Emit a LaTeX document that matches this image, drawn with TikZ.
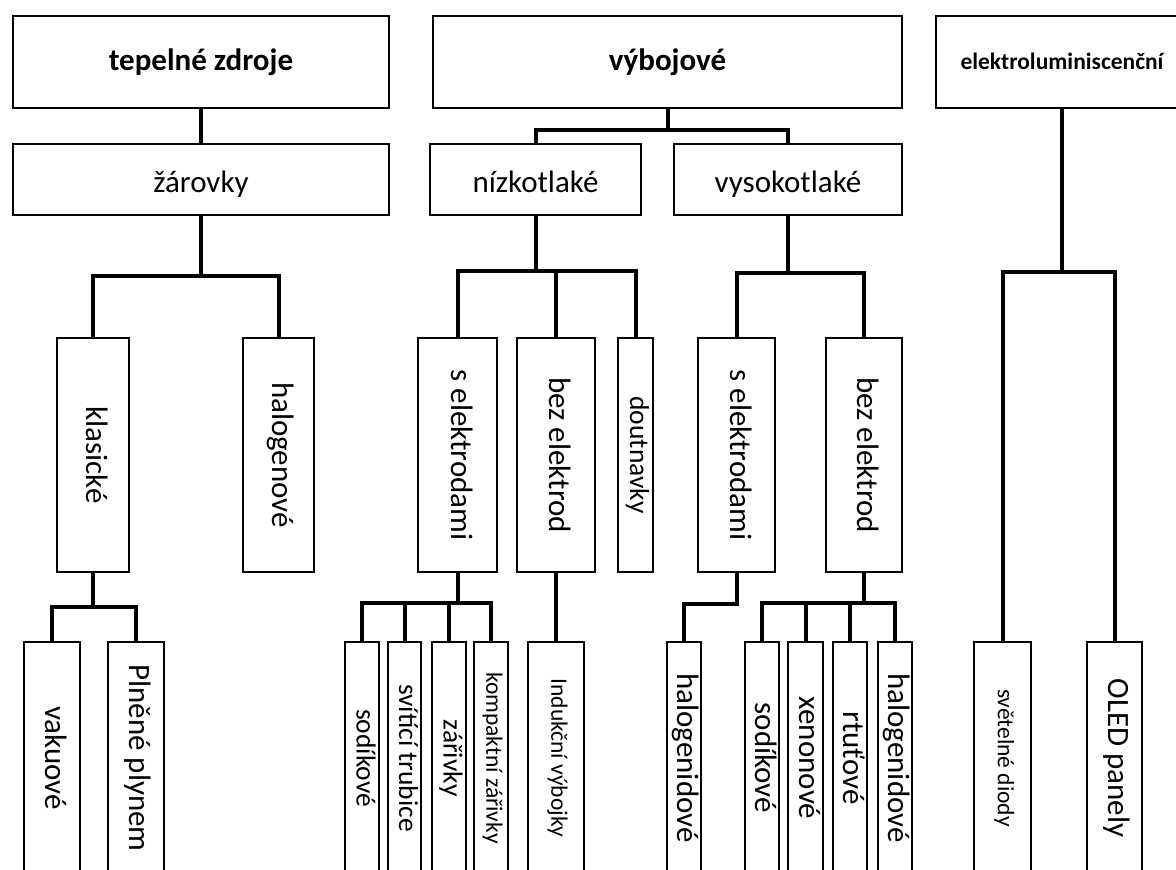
\documentclass[tikz,border=0pt]{standalone}
\usepackage{fontspec}
\setmainfont{Carlito}
\newcommand{\fsize}[1]{\fontsize{#1}{#1}\selectfont}
\newcommand{\vtext}[1]{\rotatebox{-90}{\strut #1}}
\tikzset{
	box/.style={draw, line width=1.2pt, inner sep=0pt, align=center},
	head/.style={box, minimum height=92pt, text height=16pt, text depth=0pt, font=\fsize{31}\bfseries},
	sub/.style={box, minimum height=71pt, text height=25pt, text depth=0pt, font=\fsize{31}},
	mid/.style={box, minimum height=234pt, font=\fsize{31}},
	leaf/.style={box, minimum height=232pt, font=\fsize{31}},
	conn/.style={line width=4pt},
}

\begin{document}
\begin{tikzpicture}[x=1pt,y=-1pt]
				\useasboundingbox (0,0) rectangle (1176,870);
				\clip (0,0) rectangle (1176,870);
				
				\node[head, minimum width=376pt] (tz) at (201,62) {tepelné zdroje};
				\node[head, minimum width=469pt] (vyb) at (667.5,62) {výbojové};
				\node[head, minimum width=252pt, text height=14pt, font=\fsize{23.5}\bfseries] (el) at (1062,62) {elektroluminiscenční};
				
				\node[sub, minimum width=376pt] (zar) at (201,179.5) {žárovky};
				\node[sub, minimum width=211pt] (niz) at (535.5,179.5) {nízkotlaké};
				\node[sub, minimum width=228pt] (vys) at (788,179.5) {vysokotlaké};
				
				\node[mid, minimum width=72pt] (kla) at (93,455) {\vtext{klasické}};
				\node[mid, minimum width=71pt] (hal) at (278.5,455) {\vtext{halogenové}};
				\node[mid, minimum width=79pt] (sel1) at (457.5,455) {\vtext{s elektrodami}};
				\node[mid, minimum width=78pt] (bez1) at (556,455) {\vtext{bez elektrod}};
				\node[mid, minimum width=35pt, font=\fsize{27.5}] (dou) at (635.5,455) {\vtext{doutnavky}};
				\node[mid, minimum width=77pt] (sel2) at (736.5,455) {\vtext{s elektrodami}};
				\node[mid, minimum width=76pt] (bez2) at (864,455) {\vtext{bez elektrod}};
				
				\node[leaf, minimum width=56pt] (vak) at (52,758) {\vtext{vakuové}};
				\node[leaf, minimum width=56pt] (ple) at (136,758) {\vtext{Plněné plynem}};
				\node[leaf, minimum width=34pt, font=\fsize{27.5}] (sod1) at (362,758) {\vtext{sodíkové}};
				\node[leaf, minimum width=33pt, font=\fsize{27.5}] (svi) at (404.5,758) {\vtext{svítící trubice}};
				\node[leaf, minimum width=34pt, font=\fsize{27.5}] (zar2) at (449,758) {\vtext{zářivky}};
				\node[leaf, minimum width=34pt, font=\fsize{23.5}] (kom) at (491,758) {\vtext{kompaktní zářivky}};
				\node[leaf, minimum width=56pt, font=\fsize{23.5}] (ind) at (556,758) {\vtext{Indukční výbojky}};
				\node[leaf, minimum width=34pt] (hgd1) at (684,758) {\vtext{halogenidové}};
				\node[leaf, minimum width=34pt] (sod2) at (762,758) {\vtext{sodíkové}};
				\node[leaf, minimum width=35pt] (xen) at (805.5,758) {\vtext{xenonové}};
				\node[leaf, minimum width=34pt] (rtu) at (850,758) {\vtext{rtuťové}};
				\node[leaf, minimum width=34pt] (hgd2) at (895,758) {\vtext{halogenidové}};
				\node[leaf, minimum width=57pt, font=\fsize{23.5}] (sve) at (1002.5,758) {\vtext{světelné diody}};
				\node[leaf, minimum width=55pt] (ole) at (1114.5,758) {\vtext{OLED panely}};
				
				\draw[conn] (tz.south) -- (zar.north);
				\draw[conn] (vyb.south) -- ++(0,21) -| (niz.north);
				\draw[conn] (vyb.south) -- ++(0,21) -| (vys.north);
				\foreach \n in {sve,ole} \draw[conn] (el.south) -- ++(0,163) -| (\n.north);
				
				\foreach \n in {kla,hal} \draw[conn] (zar.south) -- ++(0,60) -| (\n.north);
				\foreach \n in {sel1,bez1,dou} \draw[conn] (niz.south) -- ++(0,55) -| (\n.north);
				\foreach \n in {sel2,bez2} \draw[conn] (vys.south) -- ++(0,57) -| (\n.north);
				
				\foreach \n in {vak,ple} \draw[conn] (kla.south) -- ++(0,34) -| (\n.north);
				\foreach \n in {sod1,svi,zar2,kom} \draw[conn] (sel1.south) -- ++(0,30) -| (\n.north);
				\draw[conn] (bez1.south) -- (ind.north);
				\draw[conn] (sel2.south) -- ++(0,31) -| (hgd1.north);
				\foreach \n in {sod2,xen,rtu,hgd2} \draw[conn] (bez2.south) -- ++(0,30) -| (\n.north);
			\end{tikzpicture}
\end{document}
